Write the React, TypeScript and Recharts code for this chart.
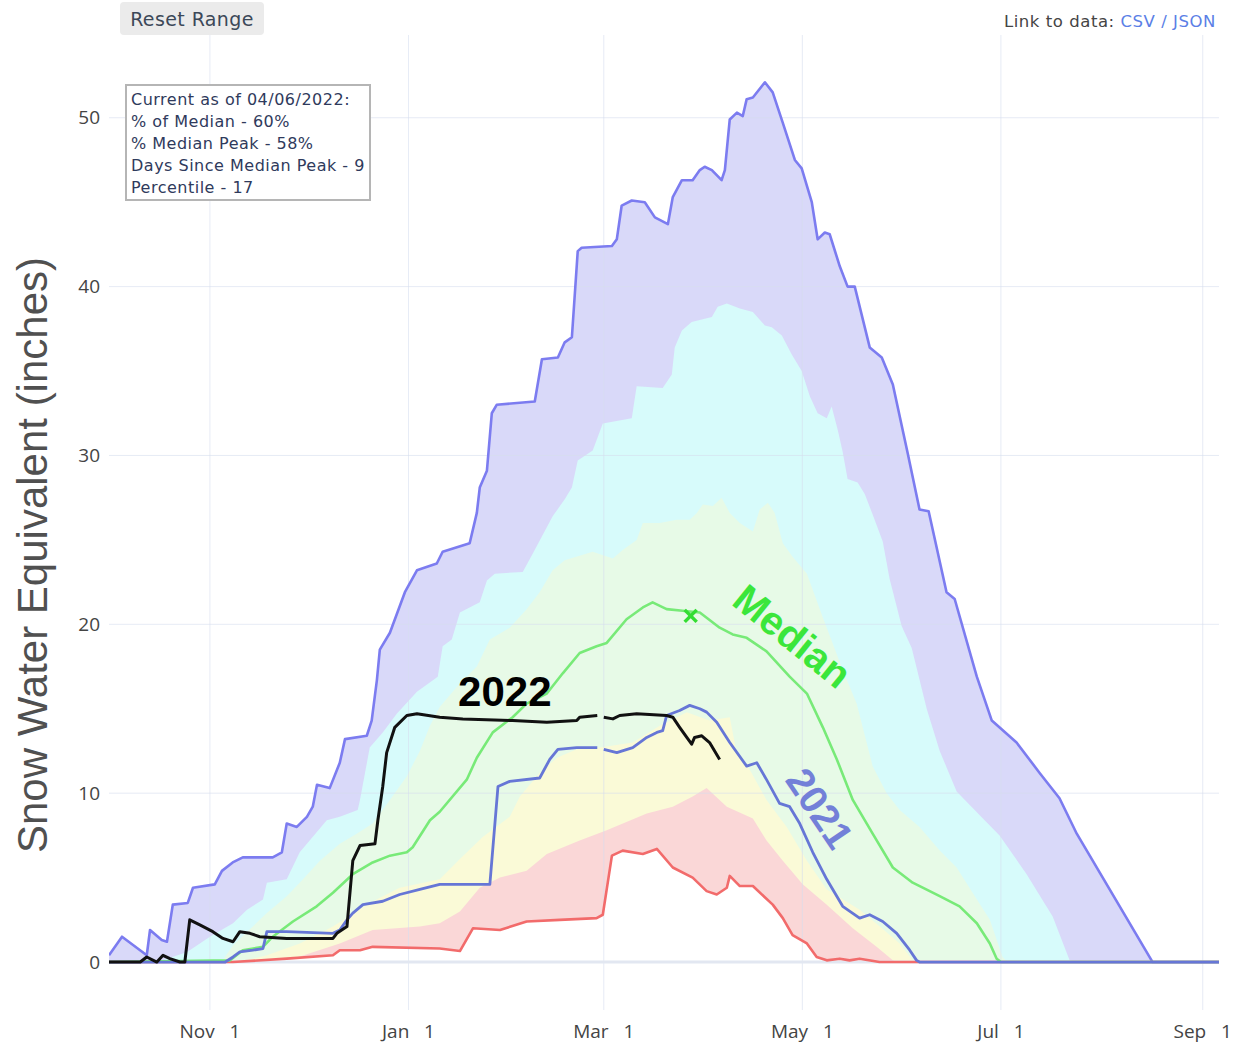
import React from "react";
import {
  ComposedChart,
  Area,
  Line,
  XAxis,
  YAxis,
  ReferenceLine,
  ReferenceDot,
} from "recharts";

// x = days since Oct 1 on a leap-year axis (Feb 29 = day 151), y = SWE inches
const tickDays = [31, 92, 152, 213, 274, 336];
const tickLabels = ["Nov\u00a0\u00a0\u00a01", "Jan\u00a0\u00a0\u00a01", "Mar\u00a0\u00a0\u00a01", "May\u00a0\u00a0\u00a01", "Jul\u00a0\u00a0\u00a01", "Sep\u00a0\u00a0\u00a01"];
const yTicks = [0, 10, 20, 30, 40, 50];
const gridDays = [31, 92, 152, 213, 274, 336];

const maxSwe: [number, number][] = [
  [0, 0.4], [4, 1.5], [11.6, 0.4], [12.6, 1.9], [16.2, 1.3], [17.8, 1.2], [19.6, 3.4], [24.2, 3.5],
  [25.8, 4.4], [32.5, 4.6], [34.7, 5.4], [38, 5.9], [41.1, 6.2], [50.3, 6.2], [53.1, 6.5], [54.6, 8.2],
  [57.7, 8.0], [60.8, 8.6], [62.6, 9.2], [63.9, 10.5], [67.8, 10.3], [70.9, 11.8], [72.5, 13.2],
  [79.2, 13.4], [80.7, 14.3], [82.3, 16.7], [83.2, 18.5], [86.3, 19.5], [90.9, 21.9], [94.6, 23.2],
  [100.7, 23.6], [102.5, 24.3], [110.8, 24.8], [113, 26.6], [113.9, 28.1], [116.1, 29.1], [117.6, 32.5],
  [119.1, 33], [130.8, 33.2], [133, 35.7], [137.9, 35.8], [140, 36.7], [142.2, 37], [144, 42.1],
  [145.2, 42.3], [154.5, 42.4], [156, 42.8], [157.5, 44.8], [160.6, 45.1], [164.6, 45], [167.7, 44.1],
  [171.7, 43.7], [173.2, 45.3], [176, 46.3], [179.3, 46.3], [181.5, 46.9], [183, 47.1], [185.2, 46.9],
  [188.2, 46.3], [189.2, 46.9], [190.7, 49.9], [192.9, 50.3], [194.7, 50.1], [195.9, 51.1], [197.8, 51.2],
  [201.5, 52.1], [203.9, 51.5], [207, 49.7], [210.7, 47.5], [212.8, 47], [215.9, 45], [217.7, 42.8],
  [219.9, 43.2], [221.4, 43.1], [224.5, 41.2], [226.9, 40], [229.1, 40], [233.7, 36.4], [237.4, 35.8],
  [240.8, 34.2], [245.4, 30.1], [249, 26.8], [251.8, 26.7], [257.3, 21.9], [259.8, 21.5], [266.6, 16.9],
  [271.2, 14.3], [278.8, 13], [285.9, 11.2], [292, 9.7], [297.3, 7.6], [320.6, 0], [341, 0],
];

const p90Swe: [number, number][] = [
  [0, 0], [15, 0], [24, 0.6], [31, 1.5], [38.1, 2.3], [42.4, 3.1], [47.3, 3.7], [48.5, 4.7], [54.6, 4.9],
  [58.6, 6.5], [66.9, 8.4], [70.9, 8.6], [76.4, 9.0], [77.1, 9.6], [80.1, 12.7], [84.1, 13.6], [88.4, 14.7],
  [94.6, 16.0], [101, 16.9], [102.5, 18.7], [105.3, 19.1], [107.8, 20.7], [113.9, 21.3], [116.1, 22.6],
  [118.5, 23], [127.1, 23.1], [130.2, 24.2], [136.3, 26.4], [140, 27.4], [142.2, 28.1], [144, 29.7],
  [148.6, 30.3], [151.7, 31.9], [160.6, 32.2], [162.1, 34.1], [170.1, 34.0], [172.9, 34.8], [173.8, 36.4],
  [176, 37.4], [179, 37.9], [185.2, 38.2], [187, 38.8], [189.8, 39.0], [193.8, 38.7], [197.8, 38.5],
  [201.5, 37.7], [203.6, 37.6], [206.7, 37.1], [209.7, 36.0], [212.8, 35.0], [215.3, 33.5], [217.7, 32.5],
  [220.5, 32.2], [222, 32.9], [223.9, 31.5], [225.4, 30.2], [226.9, 28.6], [230, 28.4], [232.2, 27.7],
  [234.6, 26.5], [237.7, 24.9], [239.8, 22.7], [243.5, 19.9], [246.6, 18.6], [251.2, 15.0], [255.2, 12.5],
  [260.4, 10.1], [267.5, 8.7], [273.6, 7.5], [281.9, 5.2], [289.9, 2.7], [295.1, 0.1], [297, 0], [341, 0],
];

const p70Swe: [number, number][] = [
  [0, 0], [35, 0], [35.6, 0.3], [38.1, 1.0], [48.5, 2.9], [54.6, 3.9], [59.6, 4.9], [64.8, 6.0], [70.9, 7.0],
  [76.1, 7.6], [81, 8.2], [86.3, 9.6], [91.5, 11], [95.5, 12.5], [98.6, 14.0], [101.6, 15.1], [106.9, 16.3],
  [113, 17.5], [117, 19.1], [123.1, 19.8], [128.3, 20.9], [132.3, 21.9], [136.3, 23.2], [140, 23.8],
  [148.6, 24.3], [154.8, 23.9], [157.8, 24.4], [162.1, 25], [164, 26], [169.2, 26], [174.4, 26.2],
  [178.4, 26.2], [180.6, 26.6], [182.4, 27.1], [185.5, 27], [188.2, 27.5], [190.7, 26.6], [193.8, 26],
  [197.8, 25.5], [199.9, 26.8], [202.4, 27.2], [204.5, 26.6], [207, 24.8], [210, 24], [214.4, 23],
  [219.3, 20.4], [225.4, 17.3], [229.7, 15.3], [234.6, 11.6], [238.9, 10], [242.9, 9], [249, 8],
  [255.2, 6.6], [260.4, 5.6], [265.3, 4.1], [270.6, 2.5], [274.5, 0.3], [276, 0], [341, 0],
];

const p30Swe: [number, number][] = [
  [0, 0], [40, 0], [48.5, 0.4], [58.6, 1.1], [68.8, 2.1], [80.1, 3.5], [89.3, 4.4], [101.6, 4.9],
  [107.8, 6.1], [114.8, 7.4], [123.1, 8.6], [126.2, 9.8], [132.3, 11.2], [137.6, 12.1], [143.7, 12.6],
  [150.8, 12.7], [160.9, 13], [169.2, 14], [177.5, 14.8], [184.5, 14.3], [190.7, 14.5], [192.8, 12.4],
  [196.8, 11.4], [202, 9.6], [208.2, 8], [214.4, 6], [220.5, 4.3], [230.6, 3.1], [236.8, 2.1],
  [242.9, 1.1], [246.9, 0.1], [248, 0], [341, 0],
];

const p10Swe: [number, number][] = [
  [0, 0], [46, 0], [56.5, 0.2], [70.9, 1.1], [81, 1.9], [95.5, 2.1], [101.6, 2.3], [107.8, 3.0],
  [113.9, 4.4], [120.1, 5.0], [128.3, 5.4], [134.5, 6.4], [144.6, 7.2], [152.9, 7.8], [165.2, 8.8],
  [173.2, 9.2], [179.3, 9.8], [183.6, 10.3], [189.8, 9.2], [197.8, 8.5], [202, 7.2], [207, 6],
  [213.1, 4.6], [220.5, 3.4], [228.5, 2.0], [235.8, 0.9], [240.8, 0.1], [242, 0], [341, 0],
];

const minSwe: [number, number][] = [
  [0, 0], [38, 0], [54.6, 0.2], [68.8, 0.4], [70.9, 0.7], [77.1, 0.7], [81, 0.9], [101.6, 0.8],
  [107.8, 0.65], [111.8, 2.0], [120.1, 1.9], [128.3, 2.4], [138.5, 2.5], [149.8, 2.6], [151.7, 2.8],
  [154.5, 6.3], [157.8, 6.6], [164, 6.4], [168.3, 6.7], [173.2, 5.6], [179.3, 5.0], [183.6, 4.2],
  [186.7, 4.0], [189.8, 4.4], [190.7, 5.1], [193.8, 4.5], [197.8, 4.5], [203.9, 3.4], [207, 2.6],
  [210, 1.6], [214.4, 1.1], [217.4, 0.3], [220.5, 0.1], [224.5, 0.2], [227.5, 0.1], [230.6, 0.2],
  [236.7, 0], [341, 0],
];

const medianSwe: [number, number][] = [
  [0, 0], [37.2, 0.1], [41.1, 0.7], [47.3, 0.9], [50.3, 1.5], [56.5, 2.4], [63.8, 3.3], [68.8, 4.1],
  [74.9, 5.2], [81, 5.9], [86.3, 6.3], [91.5, 6.5], [93.3, 6.8], [98.6, 8.4], [101.6, 8.9], [109.9, 10.8],
  [113, 12.1], [117.9, 13.6], [124, 14.5], [128.3, 15.3], [134.5, 15.9], [139.4, 17.1], [144.6, 18.3],
  [149.8, 18.7], [152.9, 18.9], [159, 20.3], [164, 21], [167, 21.3], [171.3, 20.9], [176.2, 20.8],
  [181.5, 20.7], [187.6, 19.8], [191.6, 19.4], [195.9, 19.2], [202, 18.4], [209.1, 16.9], [214.4, 15.9],
  [219.3, 13.9], [223.6, 12], [228.5, 9.6], [234.6, 7.6], [240.8, 5.6], [246.9, 4.7], [255.2, 3.9],
  [261.3, 3.3], [266.6, 2.3], [270.6, 1.1], [272.7, 0.2], [274, 0], [341, 0],
];

const swe2021: [number, number | null][] = [
  [0, 0], [35.7, 0], [38.1, 0.3], [40.2, 0.6], [44.2, 0.7], [47.3, 0.8], [48.5, 1.8], [54.6, 1.8],
  [68.8, 1.7], [70.9, 1.9], [73.1, 2.5], [74.9, 2.9], [78, 3.4], [84.1, 3.6], [89.3, 4.0], [95.5, 4.3],
  [101.6, 4.6], [117, 4.6], [119.5, 10.4], [123.1, 10.7], [132.3, 10.9], [135.4, 12], [137.9, 12.6],
  [143.7, 12.7], [150, 12.7], [151, null], [152, 12.6], [156, 12.4], [160.9, 12.7], [165.2, 13.3],
  [168.3, 13.6], [170.1, 13.7], [171.3, 14.6], [175.3, 14.9], [178.4, 15.2], [181.5, 15], [183.6, 14.8],
  [186.7, 14.2], [190.7, 13], [195.9, 11.6], [199, 11.8], [202, 10.8], [206, 9.4], [209.1, 9.2],
  [212.2, 8.2], [216.2, 6.5], [220.5, 4.9], [225.4, 3.3], [230.6, 2.6], [233.7, 2.8], [237.7, 2.4],
  [242, 1.7], [246, 0.7], [248.1, 0.1], [249, 0], [341, 0],
];

const swe2022: [number, number | null][] = [
  [0, 0], [9.6, 0], [11.6, 0.3], [14.7, 0], [16.6, 0.4], [18.7, 0.2], [21.8, 0], [23.3, 0], [24.8, 2.5],
  [27.9, 2.2], [31.9, 1.8], [35, 1.4], [38.1, 1.2], [40.2, 1.8], [43.3, 1.7], [46.3, 1.5], [54.6, 1.4],
  [68.8, 1.4], [70, 1.7], [73.1, 2.1], [74.9, 6.0], [77.1, 6.9], [81.7, 7.0], [82.6, 8.4], [84.1, 10.4],
  [85.3, 12.4], [87.8, 13.9], [91.5, 14.6], [94.6, 14.7], [101.6, 14.5], [108.7, 14.4], [124, 14.3],
  [134.5, 14.2], [143.7, 14.3], [144.6, 14.5], [150, 14.6], [151, null], [152, 14.5], [154.8, 14.4],
  [156.9, 14.6], [162.1, 14.7], [171.3, 14.6], [173.2, 14.5], [175.3, 13.9], [177.5, 13.3], [179, 12.9],
  [179.9, 13.3], [182.1, 13.4], [184.5, 13.0], [187.6, 12.0],
];

const medianPeak = { day: 178.7, swe: 20.5 };

const statsLines = [
  "Current as of 04/06/2022:",
  "% of Median - 60%",
  "% Median Peak - 58%",
  "Days Since Median Peak - 9",
  "Percentile - 17",
];

const rows = (pts: [number, number | null][]) => pts.map(([d, v]) => ({ d, v }));

const bands = [
  { key: "max", pts: maxSwe, fill: "#d9d9f9" },
  { key: "p90", pts: p90Swe, fill: "#d7fbfb" },
  { key: "p70", pts: p70Swe, fill: "#e7fae7" },
  { key: "p30", pts: p30Swe, fill: "#fafad7" },
  { key: "p10", pts: p10Swe, fill: "#fad7d7" },
  { key: "min", pts: minSwe, fill: "#ffffff" },
];

const lines = [
  { key: "maxLine", pts: maxSwe, stroke: "#7c7cf0", width: 2.6 },
  { key: "minLine", pts: minSwe, stroke: "#f26b6b", width: 2.6 },
  { key: "median", pts: medianSwe, stroke: "#78ea78", width: 2.6 },
  { key: "y2021", pts: swe2021, stroke: "#6676d6", width: 2.8 },
  { key: "y2022", pts: swe2022, stroke: "#111111", width: 3 },
];

const annotations = [
  { text: "2022", day: 121.6, swe: 16.0, color: "#000000", size: 42, angle: 0 },
  { text: "Median", day: 210.0, swe: 19.3, color: "#3be63b", size: 40, angle: 39 },
  { text: "2021", day: 218.3, swe: 9.1, color: "#7380d8", size: 39, angle: 56 },
];

const tickFont = { fill: "#444", fontSize: 19, fontFamily: '"Open Sans", sans-serif' };

export default function App() {
  return (
    <div style={{ position: "absolute", left: 0, top: 0, width: 1237, height: 1045, background: "#fff" }}>
      <ComposedChart width={1237} height={1045} margin={{ top: 35, right: 18, bottom: 0, left: 0 }}>
        <XAxis
          type="number"
          dataKey="d"
          domain={[0, 341]}
          allowDataOverflow
          ticks={tickDays}
          tickFormatter={(d: number) => tickLabels[tickDays.indexOf(d)] ?? ""}
          tick={tickFont}
          tickLine={false}
          axisLine={false}
          tickSize={0}
          tickMargin={15}
          height={35}
        />
        <YAxis
          type="number"
          domain={[-2.84, 54.9]}
          allowDataOverflow
          ticks={yTicks}
          tick={tickFont}
          tickLine={false}
          axisLine={false}
          tickSize={0}
          tickMargin={9}
          width={109}
        />
        {bands.map((b) => (
          <Area
            key={b.key}
            data={rows(b.pts)}
            dataKey="v"
            type="linear"
            baseValue={0}
            stroke="none"
            fill={b.fill}
            fillOpacity={1}
            isAnimationActive={false}
          />
        ))}
        {gridDays.map((d) => (
          <ReferenceLine key={"gx" + d} x={d} stroke="#d5deee" strokeOpacity={0.6} strokeWidth={1} />
        ))}
        {yTicks.filter((t) => t > 0).map((t) => (
          <ReferenceLine key={"gy" + t} y={t} stroke="#d5deee" strokeOpacity={0.6} strokeWidth={1} />
        ))}
        <ReferenceLine y={0} stroke="#e2e7f1" strokeWidth={3} />
        {lines.map((l) => (
          <Line
            key={l.key}
            data={rows(l.pts)}
            dataKey="v"
            type="linear"
            stroke={l.stroke}
            strokeWidth={l.width}
            strokeLinejoin="round"
            dot={false}
            activeDot={false}
            connectNulls={false}
            isAnimationActive={false}
          />
        ))}
        <ReferenceDot
          x={medianPeak.day}
          y={medianPeak.swe}
          shape={(p: any) => (
            <g stroke="#33dd33" strokeWidth={3.5}>
              <line x1={p.cx - 6} y1={p.cy - 6} x2={p.cx + 6} y2={p.cy + 6} />
              <line x1={p.cx - 6} y1={p.cy + 6} x2={p.cx + 6} y2={p.cy - 6} />
            </g>
          )}
        />
        {annotations.map((a) => (
          <ReferenceDot
            key={a.text}
            x={a.day}
            y={a.swe}
            shape={(p: any) => (
              <text
                x={p.cx}
                y={p.cy}
                textAnchor="middle"
                dominantBaseline="central"
                transform={`rotate(${a.angle} ${p.cx} ${p.cy})`}
                fill={a.color}
                fontSize={a.size}
                fontWeight="bold"
                fontFamily='"Liberation Sans", Arial, sans-serif'
              >
                {a.text}
              </text>
            )}
          />
        ))}
      </ComposedChart>

      <div
        style={{
          position: "absolute",
          left: 33,
          top: 555,
          transform: "translate(-50%, -50%) rotate(-90deg)",
          whiteSpace: "nowrap",
          fontFamily: '"Liberation Sans", Arial, sans-serif',
          fontSize: 42,
          color: "#505050",
        }}
      >
        Snow Water Equivalent (inches)
      </div>

      <div
        style={{
          position: "absolute",
          left: 120,
          top: 2,
          width: 144,
          height: 33,
          background: "#ebebeb",
          borderRadius: 4,
          display: "flex",
          alignItems: "center",
          justifyContent: "center",
          fontFamily: '"DejaVu Sans", sans-serif',
          fontSize: 19,
          letterSpacing: 0.4,
          color: "#3c4858",
        }}
      >
        Reset Range
      </div>

      <div
        style={{
          position: "absolute",
          right: 21,
          top: 12,
          whiteSpace: "nowrap",
          fontFamily: '"DejaVu Sans", sans-serif',
          fontSize: 16.5,
          letterSpacing: 0.55,
          color: "#444",
        }}
      >
        Link to data: <span style={{ color: "#5b7fe6" }}>CSV / JSON</span>
      </div>

      <div
        style={{
          position: "absolute",
          left: 125,
          top: 84,
          width: 246,
          height: 117,
          boxSizing: "border-box",
          border: "2px solid #b5b5b5",
          background: "#fff",
          padding: "3px 0 0 4px",
          fontFamily: '"DejaVu Sans", sans-serif',
          fontSize: 16,
          letterSpacing: 0.5,
          lineHeight: "22px",
          color: "#2f3a5c",
          whiteSpace: "nowrap",
        }}
      >
        {statsLines.map((s) => (
          <div key={s}>{s}</div>
        ))}
      </div>
    </div>
  );
}
